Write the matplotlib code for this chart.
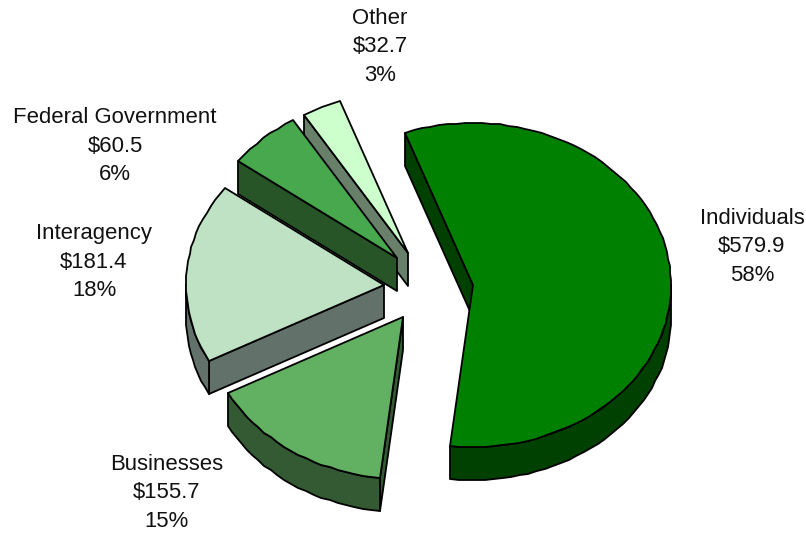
import numpy as np
import matplotlib
matplotlib.use('Agg')
import matplotlib.pyplot as plt
from matplotlib.patches import Polygon

plt.rcParams['font.family'] = ['Liberation Sans', 'DejaVu Sans']

names = ['Individuals', 'Businesses', 'Interagency', 'Federal Government', 'Other']
amounts = [579.9, 155.7, 181.4, 60.5, 32.7]
percents = [58, 15, 18, 6, 3]

top_colors = ['#008000', '#62B062', '#BFE2C4', '#47A84D', '#CCFFCC']
side_colors = ['#004000', '#335A33', '#62726A', '#275527', '#68806A']
# exploded slice apexes
apexes = [(473, 285), (403, 317), (384, 285), (397, 258), (408, 253)]
label_pos = [(752, 247), (167, 493), (94, 262), (115, 146), (380, 47)]

RX, RY = 198, 162
DEPTH = 33
START = -20.0
STEP = 2.5


def rim(apex, t):
	t = np.radians(t)
	return np.column_stack([apex[0] + RX*np.sin(t), apex[1] - RY*np.cos(t)])


def arc_angles(a0, a1):
	n = max(int((a1 - a0) / STEP), 2) + 1
	return np.linspace(a0, a1, n)


def add_poly(ax, pts, color):
	ax.add_patch(Polygon(np.round(pts), closed=True, facecolor=color, edgecolor='black', linewidth=1.3, joinstyle='round'))


fig = plt.figure(figsize=(8.06, 5.33), dpi=100)
ax = fig.add_axes([0, 0, 1, 1])
ax.set_xlim(0, 806)
ax.set_ylim(533, 0)
ax.axis('off')

spans = np.array(amounts) / sum(amounts) * 360
starts = START + np.concatenate([[0], np.cumsum(spans)[:-1]])

# back slices first, the big one does not overlap anything
for i in [4, 3, 2, 1, 0]:
	a0, a1 = starts[i], starts[i] + spans[i]
	apex = np.array(apexes[i], dtype=float)
	down = np.array([0, DEPTH])
	# cut face on the leading edge, the other one is hidden under the top
	e = rim(apex, np.array([a0]))[0]
	add_poly(ax, [apex, e, e + down, apex + down], side_colors[i])
	# outer wall, only the part facing front
	lo, hi = max(a0, 90), min(a1, 270)
	if hi > lo:
		arc = rim(apex, arc_angles(lo, hi))
		add_poly(ax, np.vstack([arc, (arc + down)[::-1]]), side_colors[i])
	arc = rim(apex, arc_angles(a0, a1))
	add_poly(ax, np.vstack([[apex], arc]), top_colors[i])

for name, amount, pct, (x, y) in zip(names, amounts, percents, label_pos):
	ax.text(x, y, '%s\n$%.1f\n%d%%' % (name, amount, pct), ha='center', va='center',
			fontsize=15.9, linespacing=1.47, color='#111111')

fig.savefig('out.png', dpi=100)
